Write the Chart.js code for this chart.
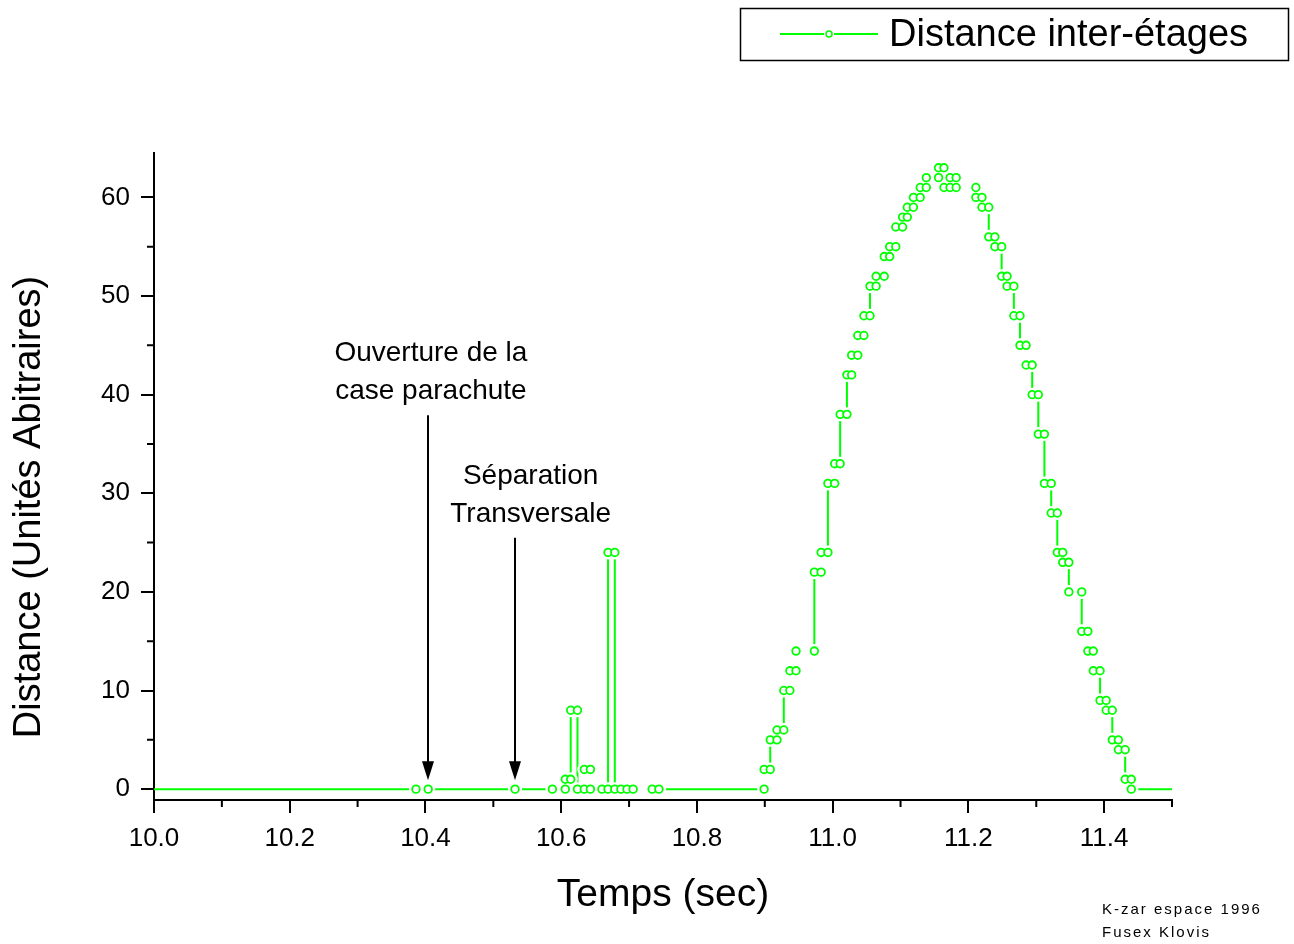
<!doctype html>
<html>

<head>
    <meta charset="UTF-8">
    <title>Distance inter-étages</title>
    <script src="https://cdn.jsdelivr.net/npm/chart.js"></script>
    <style>
        html, body { margin: 0; padding: 0; background: #fff; }
        #cadre { width: 1294px; height: 944px; }
    </style>
</head>

<body>
    <div id="cadre"><canvas id="graphe" width="1294" height="944"></canvas></div>

    <script>
        // instants d'échantillonnage (sec) et valeur tenue jusqu'à l'instant suivant
        var temps = [9.980, 10.386, 10.404, 10.532, 10.587, 10.606, 10.614, 10.624, 10.634, 10.643,
            10.660, 10.669, 10.679, 10.688, 10.697, 10.706, 10.734, 10.744,
            10.899, 10.908, 10.918, 10.928, 10.937, 10.946, 10.973, 10.983, 10.993, 11.003,
            11.011, 11.021, 11.028, 11.037, 11.046, 11.055, 11.064, 11.076, 11.084, 11.093,
            11.103, 11.110, 11.119, 11.129, 11.138, 11.156, 11.164, 11.173, 11.182, 11.211,
            11.220, 11.230, 11.239, 11.249, 11.257, 11.267, 11.276, 11.285, 11.294, 11.303,
            11.312, 11.322, 11.331, 11.339, 11.348, 11.367, 11.376, 11.384, 11.394, 11.403,
            11.412, 11.421, 11.431, 11.440, 11.520];
        var distance = [0, 0, 0, 0, 0, 1, 8, 0, 2, 0,
            0, 24, 0, 0, 0, 0, 0, 0,
            2, 5, 6, 10, 12, 14, 22, 24, 31, 33,
            38, 42, 44, 46, 48, 51, 52, 54, 55, 57,
            58, 59, 60, 61, 62, 63, 61, 62, 61, 60,
            59, 56, 55, 52, 51, 48, 45, 43, 40, 36,
            31, 28, 24, 23, 20, 16, 14, 12, 9, 8,
            5, 4, 1, 0, 0];

        var ticksX = [10.0, 10.2, 10.4, 10.6, 10.8, 11.0, 11.2, 11.4];
        var ticksXmineurs = [10.1, 10.3, 10.5, 10.7, 10.9, 11.1, 11.3, 11.5];
        var ticksY = [0, 10, 20, 30, 40, 50, 60];
        var ticksYmineurs = [5, 15, 25, 35, 45, 55];

        var notes = [
            { lignes: ['Ouverture de la', 'case parachute'], texteT: 10.408, texteY: [44.2, 40.3], flecheT: 10.404, flecheHaut: 37.9 },
            { lignes: ['Séparation', 'Transversale'], texteT: 10.555, texteY: [31.7, 27.9], flecheT: 10.532, flecheHaut: 25.5 }
        ];

        var vert = '#00ff00';
        var police = "'Liberation Sans', Arial, sans-serif";

        // chaque échantillon tient sa valeur jusqu'au suivant (marches)
        var points = [];
        temps.forEach(function (t, i) {
            if (i > 0 && distance[i] !== distance[i - 1]) {
                points.push({ x: t, y: distance[i - 1] });
            }
            points.push({ x: t, y: distance[i] });
        });

        var decor = {
            id: 'decor',
            afterDraw: function (chart) {
                var ctx = chart.ctx;
                var sx = chart.scales.x, sy = chart.scales.y;
                ctx.save();
                ctx.fillStyle = '#000';
                ctx.strokeStyle = '#000';

                // graduations secondaires
                ctx.lineWidth = 2;
                ctx.beginPath();
                ticksXmineurs.forEach(function (v) {
                    var px = sx.getPixelForValue(v);
                    ctx.moveTo(px, sy.bottom);
                    ctx.lineTo(px, sy.bottom + 7);
                });
                ticksYmineurs.forEach(function (v) {
                    var py = sy.getPixelForValue(v);
                    ctx.moveTo(sx.left, py);
                    ctx.lineTo(sx.left - 7, py);
                });
                ctx.stroke();

                // titre de l'axe Y
                ctx.save();
                ctx.translate(30, 507);
                ctx.rotate(-Math.PI / 2);
                ctx.font = '38px ' + police;
                ctx.textAlign = 'center';
                ctx.textBaseline = 'middle';
                ctx.fillText('Distance (Unités Abitraires)', 0, 0);
                ctx.restore();

                // annotations et flèches
                ctx.font = '28px ' + police;
                ctx.textAlign = 'center';
                ctx.textBaseline = 'middle';
                notes.forEach(function (n) {
                    var tx = sx.getPixelForValue(n.texteT);
                    n.lignes.forEach(function (l, i) {
                        ctx.fillText(l, tx, sy.getPixelForValue(n.texteY[i]));
                    });
                    var fx = Math.round(sx.getPixelForValue(n.flecheT));
                    var haut = sy.getPixelForValue(n.flecheHaut);
                    var pointe = sy.getPixelForValue(0) - 9;
                    ctx.lineWidth = 2;
                    ctx.beginPath();
                    ctx.moveTo(fx, haut);
                    ctx.lineTo(fx, pointe - 15);
                    ctx.stroke();
                    ctx.beginPath();
                    ctx.moveTo(fx - 6, pointe - 19);
                    ctx.lineTo(fx + 6, pointe - 19);
                    ctx.lineTo(fx, pointe);
                    ctx.closePath();
                    ctx.fill();
                });

                // légende encadrée
                ctx.lineWidth = 1.5;
                ctx.strokeRect(740.5, 8.5, 548, 52);
                ctx.strokeStyle = vert;
                ctx.lineWidth = 2;
                ctx.beginPath();
                ctx.moveTo(780, 34);
                ctx.lineTo(824, 34);
                ctx.moveTo(834, 34);
                ctx.lineTo(878, 34);
                ctx.stroke();
                ctx.fillStyle = '#fff';
                ctx.lineWidth = 1.5;
                ctx.beginPath();
                ctx.arc(829, 34, 3, 0, Math.PI * 2);
                ctx.fill();
                ctx.stroke();
                ctx.fillStyle = '#000';
                ctx.font = '38px ' + police;
                ctx.textAlign = 'left';
                ctx.fillText(chart.data.datasets[0].label, 889, 36);

                // signature
                ctx.font = '15px ' + police;
                ctx.letterSpacing = '2px';
                ctx.fillText('K-zar espace 1996', 1102, 910);
                ctx.fillText('Fusex Klovis', 1102, 933);
                ctx.restore();
            }
        };

        var ctxGraphe = document.getElementById('graphe').getContext('2d');
        var graphe = new Chart(ctxGraphe, {
            type: 'line',
            data: {
                datasets: [{
                    label: 'Distance inter-étages',
                    data: points,
                    showLine: false,
                    pointRadius: 3.8,
                    pointBorderWidth: 1.8,
                    pointBorderColor: vert,
                    pointBackgroundColor: '#fff',
                    order: 0
                }, {
                    label: 'masque',
                    data: points,
                    showLine: false,
                    pointRadius: 7,
                    pointBorderWidth: 0,
                    pointBorderColor: 'rgba(0,0,0,0)',
                    pointBackgroundColor: '#fff',
                    order: 1
                }, {
                    label: 'trait',
                    data: points,
                    pointRadius: 0,
                    borderColor: vert,
                    borderWidth: 2,
                    segment: {
                        // les segments trop courts sont cachés par les symboles
                        borderColor: function (s) {
                            var d = Math.hypot(s.p1.x - s.p0.x, s.p1.y - s.p0.y);
                            return d < 25 ? 'rgba(0,0,0,0)' : vert;
                        }
                    },
                    order: 2
                }]
            },
            options: {
                responsive: false,
                animation: false,
                events: [],
                devicePixelRatio: 1,
                layout: { padding: { top: 153, right: 122, left: 0, bottom: 0 } },
                plugins: {
                    legend: { display: false },
                    tooltip: { enabled: false }
                },
                scales: {
                    x: {
                        type: 'linear',
                        min: 10,
                        max: 11.5,
                        afterBuildTicks: function (s) { s.ticks = ticksX.map(function (v) { return { value: v }; }); },
                        afterFit: function (s) { s.height = 144; },
                        ticks: {
                            callback: function (v) { return v.toFixed(1); },
                            font: { family: police, size: 26 },
                            color: '#000',
                            padding: 10,
                            maxRotation: 0,
                            autoSkip: false
                        },
                        grid: { display: true, drawOnChartArea: false, drawTicks: true, tickLength: 13, color: '#000', lineWidth: 2 },
                        border: { display: true, color: '#000', width: 2 },
                        title: {
                            display: true,
                            text: 'Temps (sec)',
                            font: { family: police, size: 39 },
                            color: '#000',
                            padding: { top: 0, bottom: 25 }
                        }
                    },
                    y: {
                        type: 'linear',
                        min: -1.1,
                        max: 64.5,
                        afterBuildTicks: function (s) { s.ticks = ticksY.map(function (v) { return { value: v }; }); },
                        afterFit: function (s) { s.width = 154; },
                        ticks: {
                            font: { family: police, size: 26 },
                            color: '#000',
                            padding: 11
                        },
                        grid: { display: true, drawOnChartArea: false, drawTicks: true, tickLength: 13, color: '#000', lineWidth: 2 },
                        border: { display: true, color: '#000', width: 2 }
                    }
                }
            },
            plugins: [decor]
        });
    </script>
</body>

</html>
